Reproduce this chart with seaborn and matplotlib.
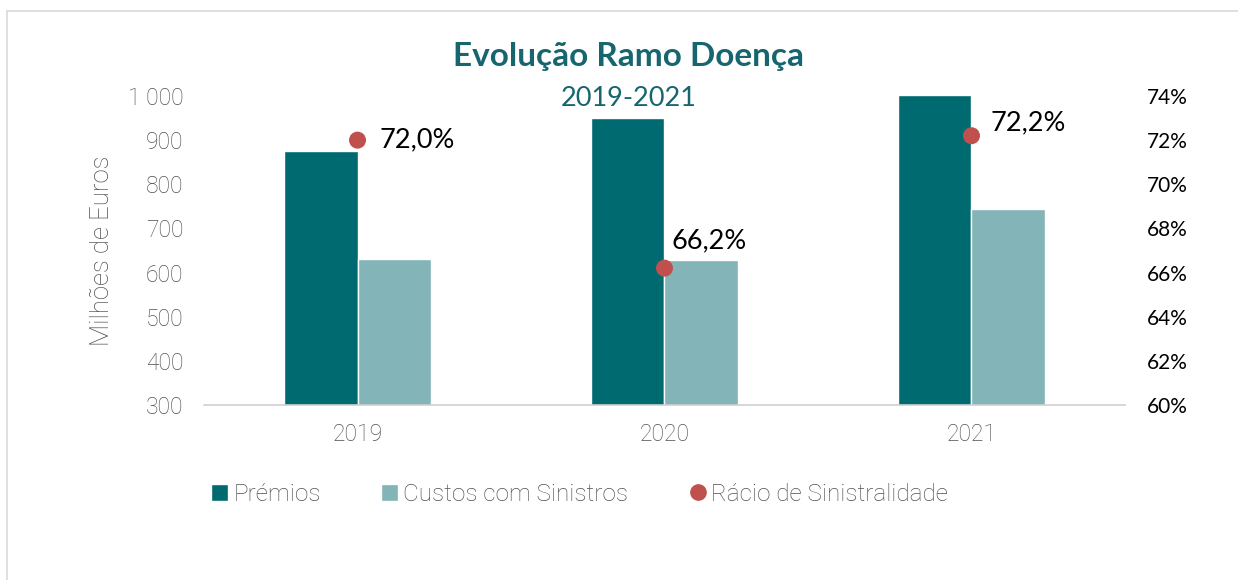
import numpy as np
import pandas as pd
import matplotlib
matplotlib.use("Agg")
import matplotlib.pyplot as plt
from matplotlib.lines import Line2D
from matplotlib.patches import Patch
import seaborn as sns

# data
anos = ["2019", "2020", "2021"]
premios = [875, 950, 1002]
custos = [631, 629, 744]
racio = [72.0, 66.2, 72.2]
racio_labels = ["72,0%", "66,2%", "72,2%"]
series = ["Prémios", "Custos com Sinistros"]

TEAL = "#006A71"
TEAL_LIGHT = "#82B4B8"
RED = "#C0504D"
GREY = "#505050"
TITLE_COL = "#17666F"

sns.set_theme(style="white")
plt.rcParams["font.family"] = ["Roboto", "DejaVu Sans"]
plt.rcParams["font.weight"] = "light"

df = pd.DataFrame({
    "Ano": anos * 2,
    "Valor": premios + custos,
    "Série": [series[0]] * 3 + [series[1]] * 3,
})

fig = plt.figure(figsize=(12.38, 5.8), dpi=100)
ax = fig.add_axes([0.1648, 0.3017, 0.7439, 0.5328])

sns.barplot(data=df, x="Ano", y="Valor", hue="Série", palette=[TEAL, TEAL_LIGHT],
            width=0.476, gap=0, saturation=1, legend=False, ax=ax)

ax.set_ylim(300, 1000)
ax.set_xlim(-0.5, 2.5)
ax.set_yticks(range(300, 1001, 100))
ax.set_yticklabels([f"{v:,}".replace(",", " ") for v in range(300, 1001, 100)])
ax.tick_params(axis="y", length=0, pad=15, labelsize=16.5, labelcolor=GREY)
ax.tick_params(axis="x", which="major", length=0, pad=13, labelsize=16.5, labelcolor=GREY)
ax.set_xticks([-0.5, 0.5, 1.5, 2.5], minor=True)
ax.tick_params(axis="x", which="minor", length=8, width=1, color="#D0D0D0")
ax.set_xlabel("")
ax.set_ylabel("Milhões de Euros", fontsize=18.5, color=GREY, fontweight="light",
              labelpad=10)
for s in ["left", "right", "top"]:
    ax.spines[s].set_visible(False)
ax.spines["bottom"].set_color("#D0D0D0")
ax.spines["bottom"].set_linewidth(1.2)

# ratio on secondary axis
ax2 = ax.twinx()
sns.scatterplot(x=np.arange(len(anos)), y=racio, color=RED, s=150, edgecolor="none",
                zorder=5, ax=ax2, legend=False)
ax2.set_ylim(60, 74)
ax2.set_yticks(range(60, 75, 2))
ax2.set_yticklabels([f"{v}%" for v in range(60, 75, 2)], fontfamily="Lato",
                    fontweight="normal")
ax2.tick_params(axis="y", length=0, pad=16, labelsize=15, labelcolor="black")
for s in ["left", "right", "top", "bottom"]:
    ax2.spines[s].set_visible(False)

offsets = [(16, 0), (5, 20), (14, 9)]
for i, (v, t) in enumerate(zip(racio, racio_labels)):
    ax2.annotate(t, (i, v), xytext=offsets[i], textcoords="offset points",
                 ha="left", va="center", fontsize=19.5, fontfamily="Lato",
                 fontweight="normal", color="black")

# titles
fig.text(0.508, 0.903, "Evolução Ramo Doença", ha="center", va="center",
         fontsize=24, fontweight="bold", fontfamily="Lato", color=TITLE_COL)
fig.text(0.508, 0.830, "2019-2021", ha="center", va="center",
         fontsize=19.5, fontweight="normal", fontfamily="Lato", color=TITLE_COL)

# legend
handles = [
    Patch(facecolor=TEAL, label="Prémios"),
    Patch(facecolor=TEAL_LIGHT, label="Custos com Sinistros"),
    Line2D([], [], marker="o", linestyle="none", color=RED, markersize=11,
           label="Rácio de Sinistralidade"),
]
leg = fig.legend(handles=handles, loc="center left", bbox_to_anchor=(0.153, 0.148),
                 ncol=3, frameon=False, handlelength=0.7, handleheight=0.7,
                 handletextpad=0.2, columnspacing=2.5,
                 prop={"size": 17.5, "weight": "light"})
for t in leg.get_texts():
    t.set_color(GREY)

# chart-area border (top and left visible)
fig.add_artist(Line2D([7 / 1238, 1], [1 - 11 / 580] * 2, color="#D9D9D9", lw=1.2,
                      transform=fig.transFigure))
fig.add_artist(Line2D([7 / 1238] * 2, [0, 1 - 11 / 580], color="#D9D9D9", lw=1.2,
                      transform=fig.transFigure))

fig.savefig("out.png", dpi=100, facecolor="white")
